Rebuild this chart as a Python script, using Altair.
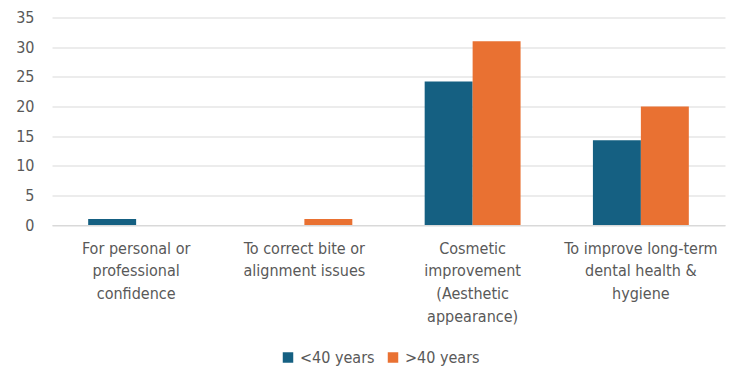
import altair as alt
import pandas as pd

categories = [
    "For personal or|professional|confidence",
    "To correct bite or|alignment issues",
    "Cosmetic|improvement|(Aesthetic|appearance)",
    "To improve long-term|dental health &|hygiene",
]
series = ["<40 years", ">40 years"]
under_40 = [1, 0, 24.2, 14.3]
over_40 = [0, 1, 31, 20]
colors = ["#156082", "#E97132"]

rows = []
for c, a, b in zip(categories, under_40, over_40):
    rows.append({"category": c, "group": series[0], "value": a})
    rows.append({"category": c, "group": series[1], "value": b})
df = pd.DataFrame(rows)

FONT = "Liberation Sans Narrow, DejaVu Sans Condensed, sans-serif"
TXT = "#595959"

chart = alt.Chart(df).mark_bar().encode(
    x=alt.X("category:N", sort=categories,
            scale=alt.Scale(paddingInner=0.43, paddingOuter=0.215),
            axis=alt.Axis(title=None, labelAngle=0, ticks=False,
                          domainColor="#d9d9d9", labelExpr="split(datum.label, '|')",
                          labelPadding=15, labelBaseline="top", labelLineHeight=22.8,
                          labelFontSize=16, labelColor=TXT, labelFont=FONT,
                          labelLimit=200)),
    xOffset=alt.XOffset("group:N", sort=series,
                        scale=alt.Scale(paddingInner=0, paddingOuter=0)),
    y=alt.Y("value:Q", scale=alt.Scale(domain=[0, 35], nice=False),
            axis=alt.Axis(title=None, values=[0, 5, 10, 15, 20, 25, 30, 35],
                          domain=False, ticks=False, gridColor="#d9d9d9",
                          labelPadding=18, labelFontSize=16, labelColor=TXT,
                          labelFont=FONT)),
    color=alt.Color("group:N", sort=series,
                    scale=alt.Scale(domain=series, range=colors),
                    legend=alt.Legend(title=None, orient="none", direction="horizontal",
                                      legendX=228, legendY=332, symbolType="square",
                                      symbolSize=110, symbolStrokeWidth=0,
                                      labelFontSize=16, labelColor=TXT, labelFont=FONT,
                                      columnPadding=10, labelOffset=4)),
).properties(
    width=673, height=207.5,
    padding={"left": 52, "top": 17.5, "right": 25, "bottom": 165},
    autosize=alt.AutoSizeParams(type="none"),
    background="white",
).configure_view(stroke=None)

chart.save("out.html", embed_options={"renderer": "svg", "actions": False})
